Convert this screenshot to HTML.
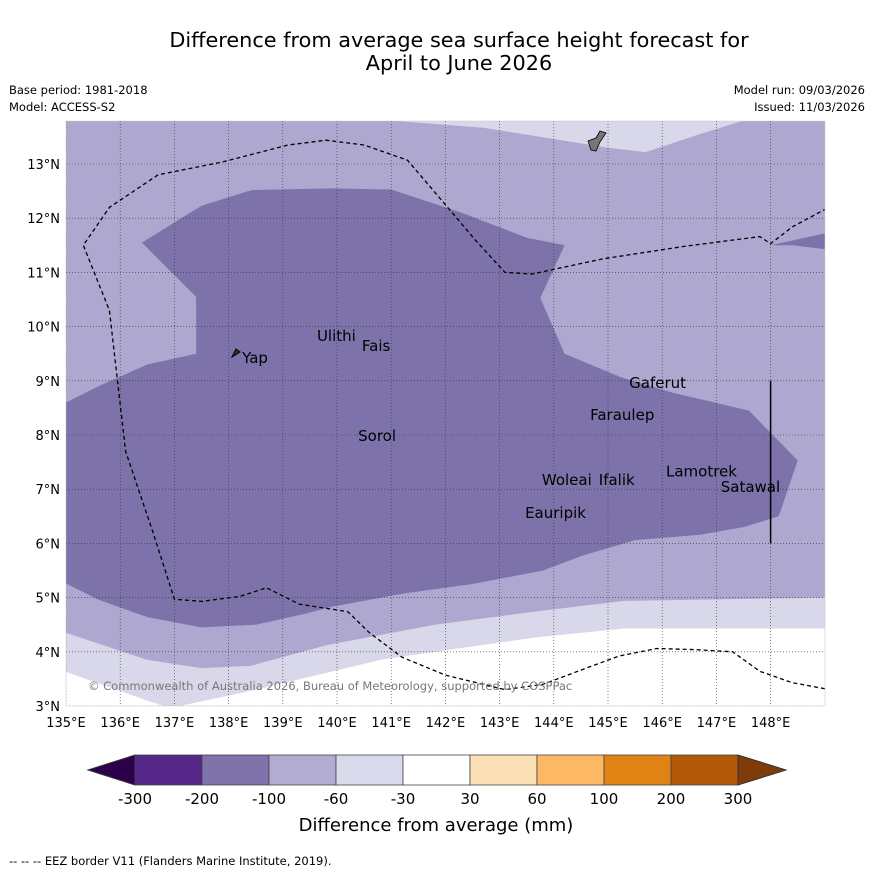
<!DOCTYPE html>
<html><head><meta charset="utf-8"><style>
body{margin:0;background:#fff;width:873px;height:873px;overflow:hidden;font-family:"Liberation Sans","DejaVu Sans",sans-serif}
svg text{font-family:"DejaVu Sans","Liberation Sans",sans-serif}
</style></head><body>
<svg id="chart" width="873" height="873" viewBox="0 0 873 873">
<rect width="873" height="873" fill="#fff"/>
<text x="459" y="47" text-anchor="middle" font-size="20.8">Difference from average sea surface height forecast for</text>
<text x="459" y="70" text-anchor="middle" font-size="20.8">April to June 2026</text>
<text x="9" y="94" font-size="11.5">Base period: 1981-2018</text>
<text x="9" y="111" font-size="11.5">Model: ACCESS-S2</text>
<text x="865" y="94" font-size="11.5" text-anchor="end">Model run: 09/03/2026</text>
<text x="865" y="111" font-size="11.5" text-anchor="end">Issued: 11/03/2026</text>
<defs><clipPath id="pc"><rect x="66" y="121" width="759" height="585"/></clipPath></defs>
<g id="map" clip-path="url(#pc)"></g>
<g id="overlay"></g>
<text x="88" y="690" font-size="11.5" fill="#777">© Commonwealth of Australia 2026, Bureau of Meteorology, supported by COSPPac</text>
<g id="cbar"></g>
<text x="436" y="831" text-anchor="middle" font-size="18">Difference from average (mm)</text>
<text x="9" y="865" font-size="11.5">--  --  -- EEZ border V11 (Flanders Marine Institute, 2019).</text>
</svg>
<script>
const lonTicks=[135,136,137,138,139,140,141,142,143,144,145,146,147,148];
const latTicks=[3,4,5,6,7,8,9,10,11,12,13];
const cbLabels=["-300","-200","-100","-60","-30","30","60","100","200","300"];
const cbColors=["#542788","#8073ac","#b2abd2","#d8daeb","#ffffff","#fee0b6","#fdb863","#e08214","#b35806"];
const cbEnds=["#2d004b","#7f3b08"];
const lightTop=[[141,13.8],[142.7,13.67],[145.0,13.3],[145.7,13.22],[146.6,13.52],[147.5,13.8]];
const lightBottom=[[135,4.35],[136.5,3.85],[137.5,3.7],[138.4,3.74],[139.8,4.12],[141.8,4.5],[143.7,4.75],[145.3,4.94],[149,5.0],[149,2.9],[135,2.9]];
const whiteBottom=[[137.1,3.0],[138.5,3.3],[140.8,3.85],[141.8,4.0],[143.7,4.27],[145.3,4.43],[149,4.43],[149,2.9],[137,2.9]];
const whiteLeft=[[135,3.63],[136.5,3.1],[137.1,2.9],[135,2.9]];
const dark=[[135,8.6],[135.6,8.9],[136.5,9.3],[137.4,9.5],[137.4,10.55],[137.0,10.95],[136.4,11.55],[137.5,12.23],[138.43,12.52],[139.9,12.55],[141.0,12.53],[142.3,12.1],[143.5,11.64],[144.2,11.5],[143.75,10.53],[144.2,9.5],[145.25,9.06],[146.2,8.78],[147.6,8.45],[148.5,7.53],[148.15,6.5],[147.5,6.3],[146.7,6.16],[145.5,6.06],[144.55,5.78],[143.8,5.5],[142.5,5.25],[141.2,5.07],[139.9,4.83],[139.4,4.7],[138.5,4.5],[137.5,4.45],[136.5,4.64],[135.6,4.96],[135,5.26]];
const darkSmall=[[148.0,11.5],[149,11.72],[149,11.43],[148.4,11.5]];
const eez=[[149,3.32],[148.4,3.43],[147.8,3.64],[147.3,4.0],[146.6,4.04],[145.9,4.06],[145.2,3.92],[144.6,3.7],[143.8,3.4],[143.1,3.3],[142.0,3.57],[141.2,3.9],[140.6,4.35],[140.2,4.74],[139.3,4.88],[138.7,5.18],[138.2,5.02],[137.5,4.93],[137.0,4.97],[136.6,6.22],[136.1,7.7],[135.8,10.3],[135.32,11.5],[135.8,12.2],[136.7,12.8],[137.9,13.04],[139.1,13.35],[139.8,13.44],[140.5,13.35],[141.3,13.07],[142.0,12.25],[142.55,11.6],[143.1,11.0],[143.6,10.97],[144.9,11.25],[146.4,11.48],[147.8,11.66],[148.0,11.53],[148.4,11.84],[149,12.16]];
const places=[["Yap",138.25,9.33],["Ulithi",139.63,9.73],["Fais",140.46,9.55],["Gaferut",145.39,8.87],["Faraulep",144.67,8.28],["Sorol",140.39,7.89],["Woleai",143.78,7.08],["Ifalik",144.83,7.08],["Lamotrek",146.07,7.23],["Satawal",147.08,6.95],["Eauripik",143.47,6.47]];
const NS="http://www.w3.org/2000/svg";
const X=lon=>66+(lon-135)*54.2, Y=lat=>164+(13-lat)*54.2;
function mk(t,a,p){const e=document.createElementNS(NS,t);for(const k in a)e.setAttribute(k,a[k]);p.appendChild(e);return e;}
const map=document.getElementById('map'),ov=document.getElementById('overlay');
const pts=arr=>arr.map(p=>X(p[0]).toFixed(1)+","+Y(p[1]).toFixed(1)).join(" ");
let bg=mk('rect',{x:66,y:121,width:759,height:585,fill:'#aea7cf'},map);


[[lightTop,'#d8d8ea','anomaly-light-north'],[lightBottom,'#d8d8ea','anomaly-light-south'],[whiteBottom,'#ffffff','anomaly-neutral-south'],[whiteLeft,'#ffffff','anomaly-neutral-southwest'],[dark,'#7e72aa','anomaly-minus200-core'],[darkSmall,'#7e72aa','anomaly-minus200-east']].forEach(d=>{
 const p=mk('polygon',{points:pts(d[0]),fill:d[1]},map);
 
 
});
lonTicks.forEach(l=>{const g=mk('line',{x1:X(l),x2:X(l),y1:121,y2:706,stroke:'#333','stroke-width':0.6,'stroke-dasharray':'1,2'},map);
 
 const t=mk('text',{x:X(l),y:727,'text-anchor':'middle','font-size':13},ov);t.textContent=l+"°E";
 });
latTicks.forEach(l=>{const g=mk('line',{x1:66,x2:825,y1:Y(l),y2:Y(l),stroke:'#333','stroke-width':0.6,'stroke-dasharray':'1,2'},map);
 
 const t=mk('text',{x:60,y:Y(l)+5,'text-anchor':'end','font-size':13},ov);t.textContent=l+"°N";
 });
const e=mk('polyline',{points:pts(eez),fill:'none',stroke:'#000','stroke-width':1.3,'stroke-dasharray':'4,3'},map);

const vl=mk('line',{x1:X(148),x2:X(148),y1:Y(9),y2:Y(6),stroke:'#000','stroke-width':1.5},map);

const guam=mk('polygon',{points:'588,141 596,138 600,131 606,133 600,142 596,151 591,150',fill:'#777',stroke:'#000','stroke-width':0.8},map);

const yap=mk('polygon',{points:'232,357 236,349 240,352',fill:'#333',stroke:'#000'},map);

places.forEach(p=>{const t=mk('text',{x:X(p[1]),y:Y(p[2]),'font-size':15},map);t.textContent=p[0];
 });
const fr=mk('rect',{x:66,y:121,width:759,height:585,fill:'none',stroke:'#ccc','stroke-width':0.5},ov);

const cb=document.getElementById('cbar');const cx0=135,cw=67,cy=755,ch=30;
const l=mk('polygon',{points:`88,770 ${cx0},${cy} ${cx0},${cy+ch}`,fill:cbEnds[0],stroke:'#333'},cb);

cbColors.forEach((c,i)=>{const r=mk('rect',{x:cx0+i*cw,y:cy,width:cw,height:ch,fill:c,stroke:'#444','stroke-width':0.8},cb);
 });
const xe=cx0+cbColors.length*cw;
const h=mk('polygon',{points:`${xe},${cy} ${xe},${cy+ch} 786,770`,fill:cbEnds[1],stroke:'#333'},cb);

cbLabels.forEach((s,i)=>{const t=mk('text',{x:cx0+i*cw,y:804,'text-anchor':'middle','font-size':15},cb);t.textContent=s;
 });
</script>
</body></html>
